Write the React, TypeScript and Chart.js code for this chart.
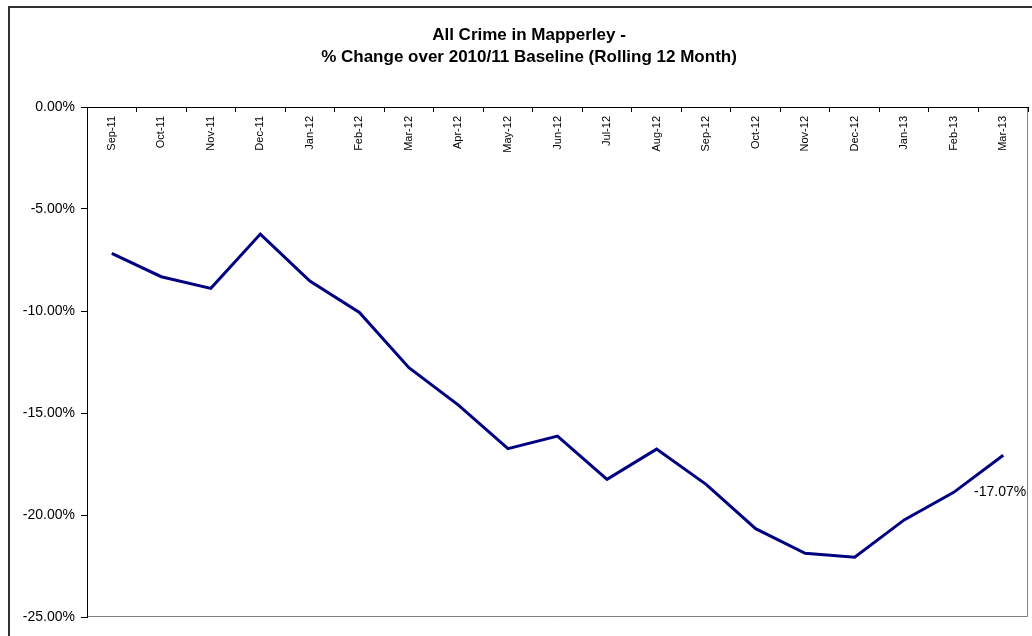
import React, { useEffect, useRef } from 'react';
import { Chart, registerables } from 'chart.js';

Chart.register(...registerables);

const MONTHS = [
  'Sep-11', 'Oct-11', 'Nov-11', 'Dec-11', 'Jan-12', 'Feb-12', 'Mar-12', 'Apr-12', 'May-12', 'Jun-12',
  'Jul-12', 'Aug-12', 'Sep-12', 'Oct-12', 'Nov-12', 'Dec-12', 'Jan-13', 'Feb-13', 'Mar-13',
];
const CHANGE = [
  -7.18, -8.32, -8.89, -6.23, -8.53, -10.07, -12.78, -14.61, -16.75, -16.13,
  -18.25, -16.77, -18.5, -20.67, -21.88, -22.07, -20.24, -18.89, -17.07,
];
const Y_MIN = -25;
const Y_MAX = 0;
const Y_STEP = 5;
const TITLE_LINES = ['All Crime in Mapperley -', '% Change over 2010/11 Baseline (Rolling 12 Month)'];

const FONT = '"Liberation Sans", Arial, Helvetica, sans-serif';

export default function App() {
  const ref = useRef<HTMLCanvasElement>(null);

  useEffect(() => {
    const canvas = ref.current;
    if (!canvas) return;

    const framePlugin = {
      id: 'framePlugin',
      beforeDraw(chart: any) {
        const ctx = chart.ctx;
        ctx.save();
        ctx.fillStyle = '#ffffff';
        ctx.fillRect(0, 0, chart.width, chart.height);
        ctx.strokeStyle = '#303030';
        ctx.lineWidth = 2;
        ctx.strokeRect(9, 7, 1200, 800);
        const a = chart.chartArea;
        ctx.strokeStyle = '#808080';
        ctx.lineWidth = 1;
        ctx.beginPath();
        ctx.moveTo(Math.round(a.right) - 0.5, a.top);
        ctx.lineTo(Math.round(a.right) - 0.5, Math.round(a.bottom) - 0.5);
        ctx.lineTo(a.left, Math.round(a.bottom) - 0.5);
        ctx.stroke();
        ctx.restore();
      },
    };

    const titlePlugin = {
      id: 'titlePlugin',
      afterDraw(chart: any) {
        const ctx = chart.ctx;
        ctx.save();
        ctx.fillStyle = '#000000';
        ctx.font = `bold 17px ${FONT}`;
        ctx.textAlign = 'center';
        ctx.textBaseline = 'middle';
        TITLE_LINES.forEach((line, i) => {
          ctx.fillText(line, 529, 35 + i * 22);
        });
        ctx.restore();
      },
    };

    const lastLabelPlugin = {
      id: 'lastLabelPlugin',
      afterDatasetsDraw(chart: any) {
        const meta = chart.getDatasetMeta(0);
        const idx = CHANGE.length - 1;
        const pt = meta.data[idx];
        if (!pt) return;
        const ctx = chart.ctx;
        ctx.save();
        ctx.fillStyle = '#000000';
        ctx.font = `14px ${FONT}`;
        ctx.textAlign = 'right';
        ctx.textBaseline = 'middle';
        ctx.fillText(`${CHANGE[idx].toFixed(2)}%`, pt.x + 23, pt.y + 37);
        ctx.restore();
      },
    };

    const chart = new Chart(canvas, {
      type: 'line',
      data: {
        labels: MONTHS,
        datasets: [
          {
            data: CHANGE,
            borderColor: '#000080',
            backgroundColor: '#000080',
            borderWidth: 3,
            pointRadius: 0,
            pointHoverRadius: 0,
            tension: 0,
            fill: false,
          },
        ],
      },
      options: {
        responsive: false,
        animation: false,
        events: [],
        layout: { padding: { top: 107, right: 4, bottom: 19, left: 0 } },
        plugins: {
          legend: { display: false },
          title: { display: false },
          tooltip: { enabled: false },
        },
        scales: {
          x: {
            type: 'category',
            position: { y: 0 } as any,
            offset: true,
            grid: {
              display: true,
              offset: true,
              drawOnChartArea: false,
              drawTicks: true,
              tickLength: 4,
              color: '#000000',
            },
            border: { display: true, color: '#000000', width: 1 },
            ticks: {
              autoSkip: false,
              minRotation: 90,
              maxRotation: 90,
              padding: 5,
              color: '#000000',
              font: { family: FONT, size: 11 },
            },
            afterFit(scale: any) {
              scale.height = 0;
            },
          },
          y: {
            type: 'linear',
            position: 'left',
            min: Y_MIN,
            max: Y_MAX,
            grid: {
              display: true,
              drawOnChartArea: false,
              drawTicks: true,
              tickLength: 6,
              color: '#000000',
            },
            border: { display: true, color: '#000000', width: 1 },
            ticks: {
              stepSize: Y_STEP,
              padding: 6,
              color: '#000000',
              font: { family: FONT, size: 14 },
              callback: (v: any) => `${Number(v).toFixed(2)}%`,
            },
            afterFit(scale: any) {
              scale.width = 87;
            },
          },
        },
      },
      plugins: [framePlugin, titlePlugin, lastLabelPlugin],
    });

    return () => {
      chart.destroy();
    };
  }, []);

  return (
    <div style={{ position: 'fixed', left: 0, top: 0, width: 1032, height: 636, background: '#ffffff' }}>
      <canvas ref={ref} width={1032} height={636} style={{ display: 'block', width: 1032, height: 636 }} />
    </div>
  );
}
